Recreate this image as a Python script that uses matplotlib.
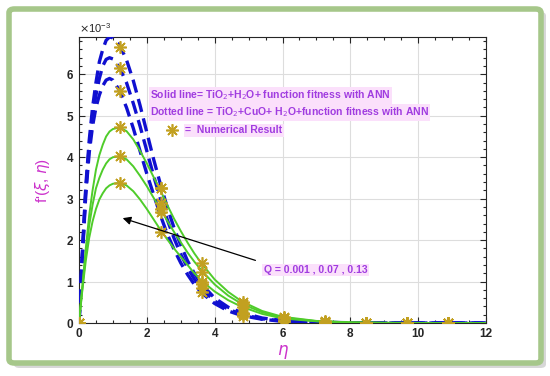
import numpy as np
import matplotlib
matplotlib.use("Agg")
import matplotlib.pyplot as plt
from matplotlib.patches import FancyBboxPatch
from matplotlib.ticker import MultipleLocator, AutoMinorLocator

plt.rcParams["font.family"] = ['Liberation Sans', 'DejaVu Sans']

# eta grid for the curves
eta = [0, 0.1, 0.2, 0.3, 0.4, 0.5, 0.6, 0.7, 0.8, 0.9, 1.0, 1.2, 1.4, 1.6, 1.8, 2.0,
       2.2, 2.4, 2.6, 2.8, 3.0, 3.2, 3.4, 3.6, 4.0, 4.4, 4.8, 5.4, 6.0, 7.0, 8.0, 9.0,
       10.0, 11.0, 12.0]

# dashed blue curves, TiO2+CuO+H2O (values x 1e-3)
dash_q1 = [0, 1.7, 3.3, 4.4, 5.2, 5.8, 6.3, 6.6, 6.82, 6.9, 6.88, 6.7, 6.35, 5.85, 5.25, 4.6,
           3.95, 3.35, 2.8, 2.3, 1.88, 1.5, 1.2, 0.95, 0.6, 0.38, 0.25, 0.12, 0.06, 0.02, 0.006, 0.002,
           0, 0, 0]
dash_q2 = [0, 1.65, 3.2, 4.25, 5.0, 5.5, 5.9, 6.2, 6.36, 6.4, 6.37, 6.15, 5.8, 5.3, 4.75, 4.15,
           3.55, 3.0, 2.5, 2.05, 1.66, 1.33, 1.06, 0.84, 0.53, 0.33, 0.21, 0.1, 0.05, 0.015, 0.005, 0.001,
           0, 0, 0]
dash_q3 = [0, 1.6, 3.1, 4.1, 4.75, 5.2, 5.5, 5.72, 5.86, 5.9, 5.86, 5.6, 5.2, 4.7, 4.15, 3.6,
           3.1, 2.6, 2.15, 1.78, 1.45, 1.17, 0.93, 0.74, 0.47, 0.29, 0.18, 0.09, 0.04, 0.012, 0.004, 0.001,
           0, 0, 0]

# solid green curves, TiO2+H2O
solid_q1 = [0, 0.9, 1.8, 2.6, 3.2, 3.7, 4.05, 4.3, 4.5, 4.62, 4.68, 4.72, 4.63, 4.43, 4.15, 3.85,
            3.52, 3.2, 2.85, 2.52, 2.22, 1.94, 1.68, 1.45, 1.05, 0.75, 0.52, 0.29, 0.15, 0.05, 0.015, 0.004,
            0.001, 0, 0]
solid_q2 = [0, 0.85, 1.65, 2.35, 2.85, 3.25, 3.5, 3.7, 3.85, 3.95, 4.0, 4.02, 3.95, 3.78, 3.55, 3.3,
            3.02, 2.75, 2.47, 2.2, 1.95, 1.7, 1.48, 1.28, 0.93, 0.66, 0.46, 0.26, 0.13, 0.045, 0.013, 0.003,
            0.001, 0, 0]
solid_q3 = [0, 0.8, 1.5, 2.05, 2.45, 2.75, 2.98, 3.13, 3.25, 3.32, 3.36, 3.38, 3.32, 3.18, 2.98, 2.75,
            2.5, 2.25, 2.02, 1.8, 1.6, 1.4, 1.2, 1.03, 0.76, 0.55, 0.39, 0.22, 0.11, 0.04, 0.01, 0.003,
            0.001, 0, 0]

# numerical results (stars)
eta_num = [0, 1.21, 2.42, 3.63, 4.84, 6.05, 7.26, 8.47, 9.68, 10.89]
num_dash = [[0, 6.65, 3.25, 0.95, 0.25, 0.06, 0.02, 0.005, 0, 0],
            [0, 6.15, 2.89, 0.85, 0.22, 0.05, 0.015, 0.004, 0, 0],
            [0, 5.6, 2.68, 0.75, 0.18, 0.04, 0.012, 0.003, 0, 0]]
num_solid = [[0, 4.72, 3.25, 1.44, 0.5, 0.15, 0.04, 0.01, 0, 0],
             [0, 4.02, 2.75, 1.24, 0.45, 0.13, 0.035, 0.01, 0, 0],
             [0, 3.38, 2.19, 1.0, 0.38, 0.11, 0.03, 0.008, 0, 0]]

scale = 1e-3
purple = '#a03ce0'
pinkbg = '#fbe0fb'
star_c = '#c2a020'

fig = plt.figure(figsize=(5.5, 3.76), dpi=100)

# green rounded frame with shadow
shadow = FancyBboxPatch((14 / 550, 8 / 376), 532 / 550, 356 / 376,
                        boxstyle="round,pad=0,rounding_size=0.01",
                        transform=fig.transFigure, fc='#bdbdbd', ec='none', alpha=0.6, zorder=-3)
fig.patches.append(shadow)
frame = FancyBboxPatch((9 / 550, 13 / 376), 532 / 550, 354 / 376,
                       boxstyle="round,pad=0,rounding_size=0.01",
                       transform=fig.transFigure, fc='white', ec='#a6c78a', lw=4, zorder=-2)
fig.patches.append(frame)

ax = fig.add_axes([79 / 550, 1 - 323 / 376, 407 / 550, 286 / 376])
ax.patch.set_alpha(0)

eta_a = np.array(eta)
for d in [dash_q1, dash_q2, dash_q3]:
    ax.plot(eta_a, np.array(d) * scale, color='#1010d0', lw=2.4, ls=(0, (4, 2)), zorder=3)
for s in [solid_q1, solid_q2, solid_q3]:
    ax.plot(eta_a, np.array(s) * scale, color='#4fcc2a', lw=1.4, zorder=4)
for n in num_dash + num_solid:
    ax.plot(eta_num, np.array(n) * scale, ls='none', marker=(8, 2, 0), ms=9,
            mec=star_c, mew=1.2, zorder=5)

ax.set_xlim(0, 12)
ax.set_ylim(0, 6.9e-3)
ax.xaxis.set_major_locator(MultipleLocator(2))
ax.xaxis.set_minor_locator(AutoMinorLocator(4))
ax.yaxis.set_major_locator(MultipleLocator(1e-3))
ax.yaxis.set_minor_locator(AutoMinorLocator(5))
ax.ticklabel_format(axis='y', style='sci', scilimits=(0, 0), useMathText=True)
ax.yaxis.get_offset_text().set_fontsize(8)
ax.tick_params(which='both', direction='in', top=True, right=True, labelsize=8.5,
               colors='#262626', width=0.8)
ax.tick_params(which='major', length=4)
ax.tick_params(which='minor', length=2)
for lab in ax.get_xticklabels() + ax.get_yticklabels():
    lab.set_fontweight('bold')
ax.grid(True, which='major', color='#dddddd', lw=0.8)
for sp in ax.spines.values():
    sp.set_color('#262626')
    sp.set_linewidth(0.8)

ax.set_xlabel(r'$\eta$', color='#cc33cc', fontsize=12, labelpad=2)
ax.set_ylabel(r"f'($\xi$, $\eta$)", color='#cc33cc', fontsize=11, labelpad=10)

ax.text(2.09, 5.49e-3, r"Solid line= TiO$_2$+H$_2$O+ function fitness with ANN",
        color=purple, fontsize=7.5, fontweight='bold', va='center', zorder=6,
        bbox=dict(fc=pinkbg, ec='none', pad=1))
ax.text(2.09, 5.08e-3, r"Dotted line = TiO$_2$+CuO+ H$_2$O+function fitness with ANN",
        color=purple, fontsize=7.5, fontweight='bold', va='center', zorder=6,
        bbox=dict(fc=pinkbg, ec='none', pad=1))
ax.plot([2.74], [4.65e-3], ls='none', marker=(8, 2, 0), ms=9, mec=star_c, mew=1.2, zorder=6)
ax.text(3.13, 4.65e-3, "=  Numerical Result", color=purple, fontsize=7.5,
        fontweight='bold', va='center', zorder=6, bbox=dict(fc=pinkbg, ec='none', pad=1))

ax.annotate("", xy=(1.21, 2.55e-3), xytext=(5.28, 1.49e-3),
            arrowprops=dict(arrowstyle='-|>', color='black', lw=0.9, mutation_scale=12), zorder=6)
ax.text(5.45, 1.28e-3, "Q = 0.001 , 0.07 , 0.13", color=purple, fontsize=7.5,
        fontweight='bold', va='center', zorder=6, bbox=dict(fc=pinkbg, ec='none', pad=1))

plt.savefig("out.png", dpi=100)
